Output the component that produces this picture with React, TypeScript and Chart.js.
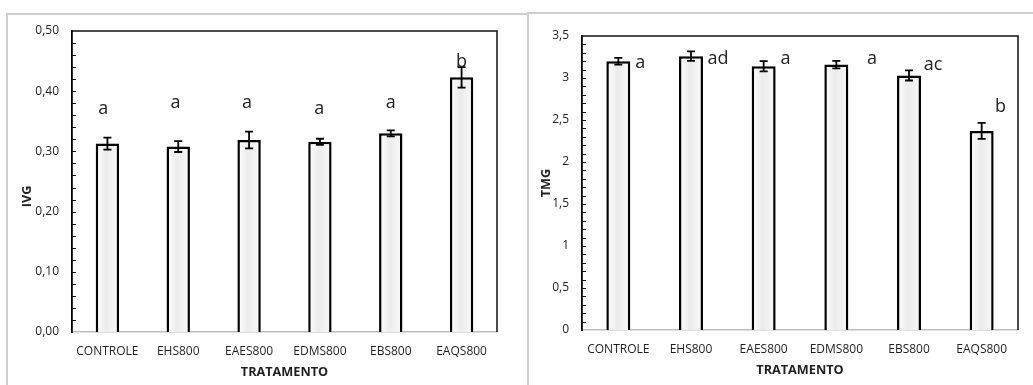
import React, { useEffect, useRef } from "react";
import { Chart, registerables } from "chart.js";

Chart.register(...registerables);

// ---------- data ----------
const categories = ["CONTROLE", "EHS800", "EAES800", "EDMS800", "EBS800", "EAQS800"];

const ivgValues = [0.313, 0.308, 0.319, 0.316, 0.33, 0.423];
const ivgErrors = [0.01, 0.009, 0.014, 0.005, 0.005, 0.017];
const ivgLetters = ["a", "a", "a", "a", "a", "b"];
const ivgLetterY = [0.362, 0.3715, 0.3715, 0.362, 0.3715, 0.441];
const ivgLetterDx = [-0.06, -0.04, -0.03, -0.01, 0, 0];

const tmgValues = [3.2, 3.26, 3.14, 3.16, 3.03, 2.37];
const tmgErrors = [0.04, 0.057, 0.06, 0.045, 0.06, 0.095];
const tmgLetters = ["a", "ad", "a", "a", "ac", "b"];
const tmgLetterY = [3.119, 3.163, 3.163, 3.163, 3.1, 2.596];
const tmgLetterDx = [0.3, 0.37, 0.3, 0.49, 0.33, 0.26];

const FONT = '"Open Sans", "Noto Sans", "Liberation Sans", sans-serif';
const TEXT = "#1f1f1f";
const BAR_FRACTION = 0.33;

type PanelCfg = {
  values: number[];
  errors: number[];
  letters: string[];
  letterY: number[];
  letterDx: number[];
  yMax: number;
  yStep: number;
  minorStep: number;
  fmt: (v: number) => string;
  yTitle: string;
  width: number;
  height: number;
  yAxisWidth: number;
  xAxisHeight: number;
  padTop: number;
  padRight: number;
  yTitleX: number;
  yTitleShift: number;
  xTitlePad: number;
};

function barFill(context: any) {
  const chart = context.chart;
  const xs = chart.scales && chart.scales.x;
  if (!xs || context.dataIndex == null || !isFinite(xs.width)) return "#f0f0f0";
  const x = xs.getPixelForValue(context.dataIndex);
  const half = ((xs.width / categories.length) * BAR_FRACTION) / 2;
  const g = chart.ctx.createLinearGradient(x - half, 0, x + half, 0);
  g.addColorStop(0, "#ffffff");
  g.addColorStop(0.45, "#ebebeb");
  g.addColorStop(1, "#fafafa");
  return g;
}

function makeChart(canvas: HTMLCanvasElement, c: PanelCfg) {
  const overlay = {
    id: "overlay",
    afterDatasetsDraw(chart: any) {
      const { ctx } = chart;
      const xs = chart.scales.x;
      const ys = chart.scales.y;
      ctx.save();
      ctx.strokeStyle = "#000";
      ctx.lineWidth = 1.8;
      c.values.forEach((v, i) => {
        const x = xs.getPixelForValue(i);
        const yh = ys.getPixelForValue(v + c.errors[i]);
        const yl = ys.getPixelForValue(v - c.errors[i]);
        ctx.beginPath();
        ctx.moveTo(x, yh);
        ctx.lineTo(x, yl);
        ctx.moveTo(x - 4, yh);
        ctx.lineTo(x + 4, yh);
        ctx.moveTo(x - 4, yl);
        ctx.lineTo(x + 4, yl);
        ctx.stroke();
      });
      ctx.fillStyle = TEXT;
      ctx.font = `18px ${FONT}`;
      ctx.textAlign = "center";
      ctx.textBaseline = "alphabetic";
      c.letters.forEach((t, i) => {
        const x = xs.getPixelForValue(i + c.letterDx[i]);
        const y = ys.getPixelForValue(c.letterY[i]);
        ctx.fillText(t, x, y);
      });
      ctx.restore();
    },
    afterDraw(chart: any) {
      const { ctx, chartArea } = chart;
      const ys = chart.scales.y;
      ctx.save();
      ctx.strokeStyle = "#111";
      ctx.lineWidth = 1.5;
      ctx.beginPath();
      ctx.moveTo(chartArea.left, chartArea.top);
      ctx.lineTo(chartArea.right, chartArea.top);
      ctx.lineTo(chartArea.right, chartArea.bottom);
      ctx.stroke();
      ctx.lineWidth = 1.2;
      ctx.beginPath();
      const n = Math.round(c.yMax / c.minorStep);
      for (let k = 1; k < n; k++) {
        const y = Math.round(ys.getPixelForValue(k * c.minorStep)) + 0.5;
        ctx.moveTo(chartArea.left, y);
        ctx.lineTo(chartArea.left + 4, y);
      }
      ctx.stroke();
      // y-axis title
      ctx.fillStyle = TEXT;
      ctx.font = `bold 12.7px ${FONT}`;
      ctx.textAlign = "center";
      ctx.textBaseline = "middle";
      ctx.translate(c.yTitleX, (chartArea.top + chartArea.bottom) / 2 + c.yTitleShift);
      ctx.rotate(-Math.PI / 2);
      ctx.fillText(c.yTitle, 0, 0);
      ctx.restore();
    },
  };

  return new Chart(canvas, {
    type: "bar",
    data: {
      labels: categories,
      datasets: [
        {
          data: c.values,
          backgroundColor: barFill,
          borderColor: "#000",
          borderWidth: 2.5,
          categoryPercentage: BAR_FRACTION,
          barPercentage: 1,
        },
      ],
    },
    options: {
      animation: false,
      responsive: false,
      devicePixelRatio: 1,
      layout: { padding: { top: c.padTop, right: c.padRight, left: 0, bottom: 0 } },
      plugins: { legend: { display: false }, tooltip: { enabled: false } },
      scales: {
        x: {
          grid: { display: false, drawTicks: false },
          border: { display: true, color: "#bdbdbd", width: 1.5 },
          ticks: {
            color: TEXT,
            font: { family: FONT, size: 12 },
            padding: 12,
            maxRotation: 0,
            autoSkip: false,
          },
          title: {
            display: true,
            text: "TRATAMENTO",
            color: TEXT,
            font: { family: FONT, size: 12.7, weight: "bold" },
            padding: { top: 0, bottom: c.xTitlePad },
          },
          afterFit(scale: any) {
            scale.height = c.xAxisHeight;
            scale.paddingLeft = 0;
            scale.paddingRight = 0;
          },
        },
        y: {
          min: 0,
          max: c.yMax,
          grid: { display: false, drawTicks: false },
          border: { display: true, color: "#000", width: 1.8 },
          ticks: {
            stepSize: c.yStep,
            color: TEXT,
            font: { family: FONT, size: 12 },
            padding: 13,
            callback: (v: any) => c.fmt(Number(v)),
          },
          title: { display: false },
          afterFit(scale: any) {
            scale.width = c.yAxisWidth;
            scale.paddingTop = 0;
            scale.paddingBottom = 0;
          },
        },
      },
    } as any,
    plugins: [overlay as any],
  });
}

function Panel({ cfg, style }: { cfg: PanelCfg; style: React.CSSProperties }) {
  const ref = useRef<HTMLCanvasElement>(null);
  useEffect(() => {
    if (!ref.current) return;
    const ch = makeChart(ref.current, cfg);
    return () => ch.destroy();
  }, []);
  return (
    <canvas
      ref={ref}
      width={cfg.width}
      height={cfg.height}
      style={{ position: "absolute", width: cfg.width, height: cfg.height, ...style }}
    />
  );
}

const leftCfg: PanelCfg = {
  values: ivgValues,
  errors: ivgErrors,
  letters: ivgLetters,
  letterY: ivgLetterY,
  letterDx: ivgLetterDx,
  yMax: 0.5,
  yStep: 0.1,
  minorStep: 0.02,
  fmt: (v) => v.toFixed(2).replace(".", ","),
  yTitle: "IVG",
  width: 510,
  height: 370,
  yAxisWidth: 63,
  xAxisHeight: 53,
  padTop: 16,
  padRight: 22,
  yTitleX: 18,
  yTitleShift: 15,
  xTitlePad: 5,
};

const rightCfg: PanelCfg = {
  values: tmgValues,
  errors: tmgErrors,
  letters: tmgLetters,
  letterY: tmgLetterY,
  letterDx: tmgLetterDx,
  yMax: 3.5,
  yStep: 0.5,
  minorStep: 0.1,
  fmt: (v) => String(Math.round(v * 10) / 10).replace(".", ","),
  yTitle: "TMG",
  width: 504,
  height: 370,
  yAxisWidth: 53,
  xAxisHeight: 55,
  padTop: 21,
  padRight: 15,
  yTitleX: 17,
  yTitleShift: 0,
  xTitlePad: 7,
};

export default function App() {
  return (
    <div
      style={{
        position: "absolute",
        left: 0,
        top: 0,
        width: 1033,
        height: 385,
        background: "#fff",
        overflow: "hidden",
      }}
    >
      <div
        style={{
          position: "absolute",
          left: 6,
          top: 13,
          width: 530,
          height: 400,
          borderLeft: "2px solid #cfcfcf",
          borderTop: "2px solid #cfcfcf",
        }}
      />
      <div
        style={{
          position: "absolute",
          left: 527,
          top: 12,
          width: 520,
          height: 400,
          borderLeft: "2px solid #cfcfcf",
          borderTop: "2px solid #cfcfcf",
          background: "#fff",
        }}
      />
      <Panel cfg={leftCfg} style={{ left: 9, top: 15 }} />
      <Panel cfg={rightCfg} style={{ left: 529, top: 15 }} />
    </div>
  );
}
